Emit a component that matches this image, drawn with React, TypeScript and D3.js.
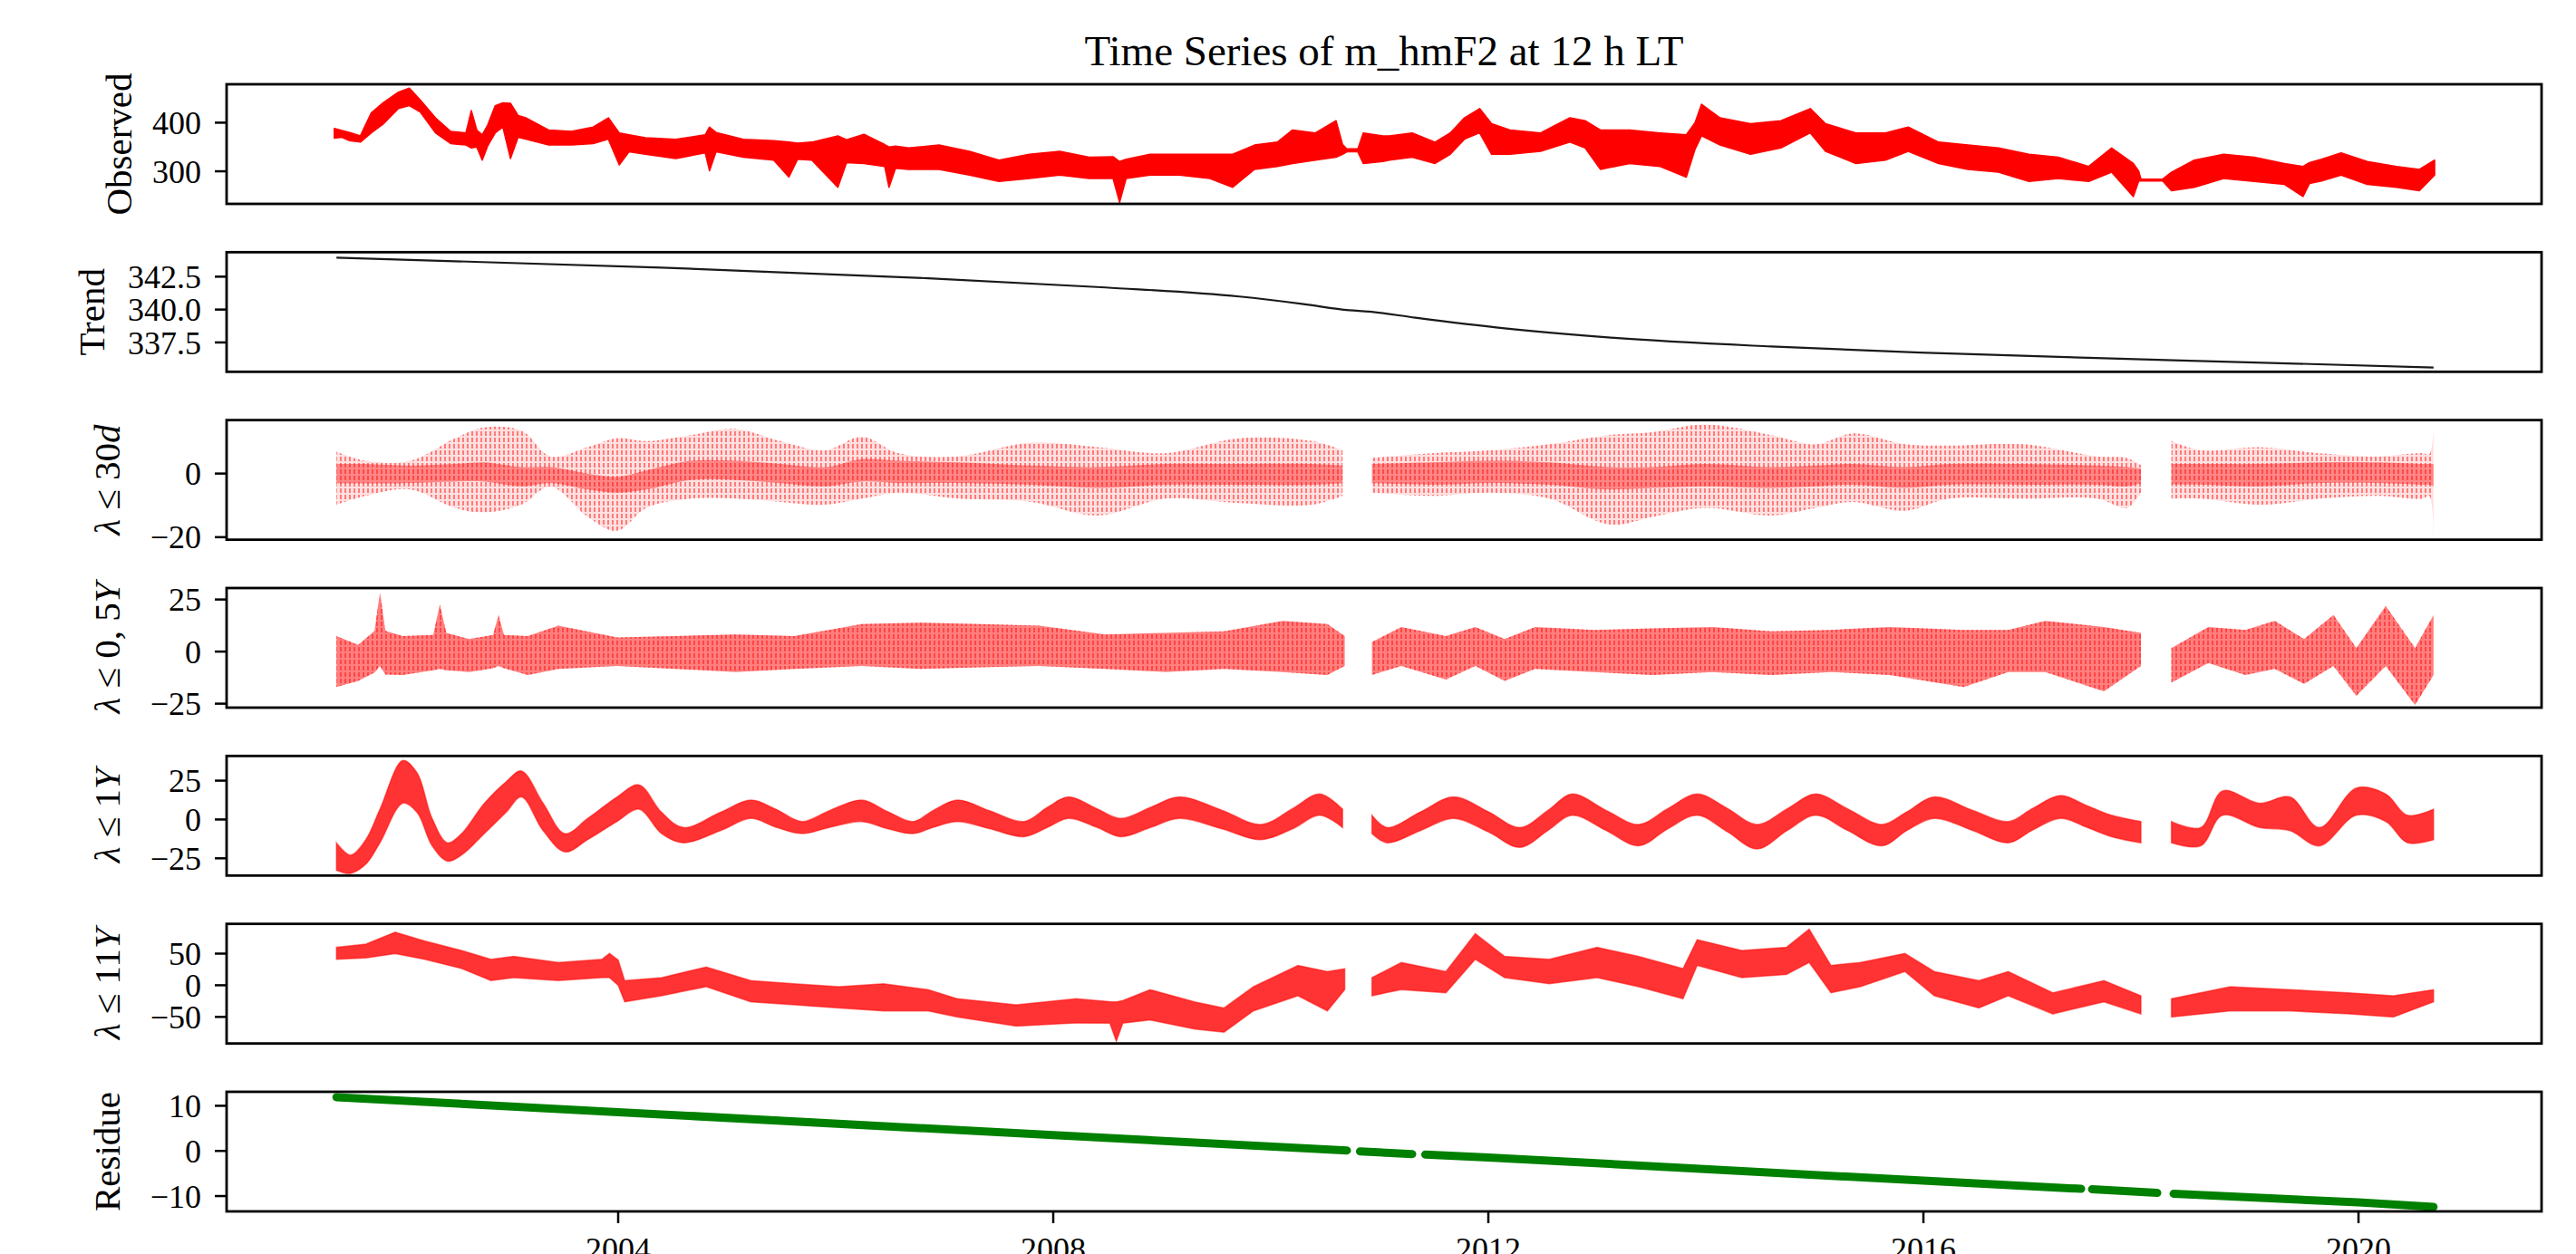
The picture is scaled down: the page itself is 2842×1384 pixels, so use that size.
import React, { useEffect } from 'react';
import * as d3 from 'd3';

const WIDTH = 2842;
const HEIGHT = 1384;
const FONT = "'Liberation Serif', 'DejaVu Serif', serif";

// ---- axes ----
const xDomain = [2000.4, 2021.683];
const xTicks = [2004, 2008, 2012, 2016, 2020];

const obsDomain = [233, 479];
const obsTicks = [300, 400];
const trendDomain = [335.27, 344.36];
const trendTicks = [337.5, 340.0, 342.5];
const d30Domain = [-20.8, 16.8];
const d30Ticks = [-20, 0];
const halfDomain = [-26.9, 30.5];
const halfTicks = [-25, 0, 25];
const oneDomain = [-36.1, 40.9];
const oneTicks = [-25, 0, 25];
const elevenDomain = [-92, 97];
const elevenTicks = [-50, 0, 50];
const resDomain = [-13.4, 13.1];
const resTicks = [-10, 0, 10];

// ---- Observed (band: upper / lower envelope of daily values) ----
const obsYear = [2001.39, 2001.46, 2001.53, 2001.63, 2001.73, 2001.84, 2001.98, 2002.08, 2002.18, 2002.32, 2002.46, 2002.6, 2002.65, 2002.7, 2002.75, 2002.8, 2002.87, 2002.94, 2003.01, 2003.08, 2003.15, 2003.36, 2003.57, 2003.77, 2003.91, 2004.01, 2004.1, 2004.25, 2004.53, 2004.8, 2004.84, 2004.9, 2005.15, 2005.43, 2005.57, 2005.65, 2005.78, 2006.02, 2006.1, 2006.26, 2006.45, 2006.49, 2006.55, 2006.67, 2006.95, 2007.23, 2007.5, 2007.78, 2008.06, 2008.33, 2008.55, 2008.61, 2008.67, 2008.89, 2009.16, 2009.44, 2009.65, 2009.85, 2010.06, 2010.2, 2010.41, 2010.6, 2010.66, 2010.7, 2010.8, 2010.85, 2011.03, 2011.09, 2011.3, 2011.51, 2011.65, 2011.78, 2011.92, 2012.03, 2012.2, 2012.48, 2012.75, 2012.89, 2013.03, 2013.3, 2013.58, 2013.82, 2013.9, 2013.96, 2014.13, 2014.41, 2014.69, 2014.96, 2015.1, 2015.38, 2015.65, 2015.86, 2016.14, 2016.41, 2016.69, 2016.97, 2017.24, 2017.52, 2017.73, 2017.93, 2017.98, 2018.0, 2018.2, 2018.28, 2018.49, 2018.76, 2019.04, 2019.32, 2019.49, 2019.55, 2019.66, 2019.84, 2020.08, 2020.35, 2020.56, 2020.7];
const obsHi = [388, 384, 380, 373, 420, 441, 463, 471, 447, 410, 382, 379, 425, 385, 375, 395, 435, 441, 440, 415, 410, 385, 382, 391, 410, 379, 375, 369, 366, 375, 391, 380, 366, 363, 360, 358, 360, 373, 365, 376, 355, 350, 352, 348, 354, 341, 323, 335, 341, 329, 330, 320, 325, 335, 335, 335, 335, 354, 360, 385, 379, 404, 355, 346, 346, 379, 373, 373, 379, 360, 379, 410, 429, 398, 385, 379, 410, 404, 385, 385, 379, 375, 400, 438, 410, 398, 404, 429, 398, 379, 379, 391, 360, 354, 348, 335, 329, 310, 348, 316, 300, 284, 284, 298, 323, 335, 329, 316, 310, 318, 325, 338, 320, 310, 304, 323];
const obsLo = [368, 370, 363, 360, 379, 397, 429, 435, 422, 379, 357, 354, 348, 350, 323, 352, 379, 391, 326, 370, 366, 354, 354, 357, 366, 313, 340, 335, 326, 338, 301, 340, 329, 323, 288, 325, 323, 267, 318, 316, 310, 267, 306, 304, 304, 292, 279, 285, 292, 285, 285, 236, 285, 292, 292, 285, 267, 304, 310, 316, 323, 329, 335, 340, 340, 316, 320, 323, 329, 316, 335, 366, 379, 335, 335, 341, 360, 348, 304, 316, 310, 288, 345, 373, 354, 335, 348, 379, 341, 316, 323, 341, 316, 304, 298, 279, 285, 279, 298, 248, 280, 280, 280, 260, 267, 285, 279, 273, 248, 275, 280, 292, 273, 267, 260, 292];

// ---- Trend ----
const trendYear = [2001.41, 2004.4, 2006.85, 2008.48, 2009.71, 2010.3, 2010.72, 2010.9, 2011.33, 2012.15, 2013.1, 2014.6, 2015.97, 2018.3, 2020.69];
const trendVal = [343.95, 343.19, 342.38, 341.68, 340.99, 340.42, 339.95, 339.85, 339.38, 338.57, 337.88, 337.19, 336.73, 336.15, 335.6];

// ---- lambda <= 30 d (outer envelope and dense core) ----
const d30Year = [2001.41, 2001.68, 2002.09, 2002.5, 2002.77, 2003.11, 2003.38, 2003.72, 2003.99, 2004.26, 2004.67, 2005.08, 2005.49, 2005.9, 2006.24, 2006.58, 2007.12, 2007.8, 2008.41, 2009.03, 2009.71, 2010.38, 2010.66, 2010.8, 2010.93, 2011.47, 2012.02, 2012.56, 2013.11, 2013.51, 2013.99, 2014.6, 2015.01, 2015.35, 2015.83, 2016.24, 2016.92, 2017.6, 2017.87, 2018.0, 2018.12, 2018.28, 2018.55, 2019.09, 2019.64, 2020.18, 2020.59, 2020.65, 2020.69];
const d30Hi = [6.9, 4.0, 4.0, 11.1, 14.5, 13.5, 5.4, 8.3, 11.1, 10.2, 12.1, 14.0, 10.2, 7.3, 11.6, 6.4, 5.4, 9.7, 8.3, 6.4, 11.1, 10.2, 7.3, null, 4.9, 6.4, 7.3, 9.2, 12.1, 13.0, 15.4, 12.1, 9.2, 12.6, 9.2, 8.8, 9.2, 5.4, 4.9, 2.6, null, 10.2, 7.3, 8.3, 6.4, 5.4, 6.4, 6.0, 14.0];
const d30Lo = [-9.8, -7.0, -5.0, -10.8, -12.2, -9.8, -4.1, -13.6, -18.0, -10.8, -7.9, -7.9, -8.9, -9.8, -7.9, -6.0, -7.9, -8.9, -13.2, -7.9, -9.3, -9.8, -7.0, null, -6.0, -7.0, -6.0, -7.9, -16.0, -13.6, -10.8, -13.2, -10.8, -8.9, -11.7, -7.9, -7.9, -7.9, -10.8, -6.0, null, -7.9, -7.9, -9.8, -7.9, -7.0, -7.9, -7.0, -19.8];
const d30CoreHi = [3.0, 3.0, 2.5, 3.0, 3.5, 2.0, 2.0, 0.0, -1.0, 1.0, 4.0, 4.0, 3.0, 2.0, 4.5, 4.0, 3.5, 2.5, 2.0, 3.0, 3.0, 3.0, 2.5, null, 3.0, 3.5, 4.0, 3.5, 2.0, 2.0, 3.0, 2.0, 2.5, 3.0, 2.0, 3.0, 3.0, 2.5, 2.0, 1.5, null, 3.0, 3.0, 3.0, 3.5, 3.5, 3.0, 3.0, 3.0];
const d30CoreLo = [-3.1, -3.1, -3.0, -2.5, -2.5, -4.0, -3.0, -5.0, -6.0, -5.0, -2.0, -2.0, -3.0, -4.0, -2.5, -3.0, -3.0, -3.5, -4.5, -3.5, -3.5, -3.5, -3.0, null, -3.0, -3.5, -3.0, -3.5, -5.0, -4.5, -4.0, -4.5, -4.0, -3.5, -4.5, -3.5, -3.5, -3.5, -4.0, -3.0, null, -3.5, -3.5, -4.0, -3.0, -3.0, -3.5, -3.5, -4.0];

// ---- lambda <= 0,5 Y ----
const halfYear = [2001.41, 2001.61, 2001.76, 2001.81, 2001.86, 2002.02, 2002.3, 2002.36, 2002.42, 2002.63, 2002.85, 2002.9, 2002.95, 2003.17, 2003.45, 2003.99, 2004.53, 2005.08, 2005.62, 2006.24, 2006.78, 2007.32, 2007.87, 2008.48, 2009.03, 2009.57, 2010.11, 2010.52, 2010.68, 2010.8, 2010.93, 2011.2, 2011.61, 2011.88, 2012.15, 2012.43, 2012.97, 2013.51, 2014.06, 2014.6, 2015.15, 2015.69, 2016.37, 2016.78, 2017.12, 2017.66, 2018.0, 2018.12, 2018.28, 2018.62, 2018.96, 2019.23, 2019.5, 2019.77, 2019.98, 2020.25, 2020.52, 2020.69];
const halfHi = [7.5, 3.2, 10, 28.4, 10, 7.5, 8, 22.6, 9, 6.0, 8, 17.6, 8, 7.5, 12.5, 6.8, 7.5, 8.2, 7.5, 13.2, 13.9, 13.2, 12.5, 8.2, 9.0, 9.7, 14.7, 13.2, 7.5, null, 4.6, 11.8, 7.5, 11.8, 6.0, 11.8, 10.4, 11.1, 11.8, 9.7, 10.4, 11.8, 10.4, 10.4, 14.7, 11.8, 9.0, null, 1.7, 11.8, 10.4, 14.7, 6.0, 17.6, 1.7, 21.9, 1.7, 17.6];
const halfLo = [-17, -14.1, -10, -6.9, -11, -11.2, -9, -8.3, -9, -9.8, -8, -6.9, -8, -11.2, -8.3, -6.9, -8.3, -9.8, -8.3, -6.9, -8.3, -7.6, -6.9, -8.3, -9.8, -8.3, -9.8, -11.2, -6.9, null, -11.2, -6.9, -13.4, -6.9, -14.1, -8.3, -9.8, -11.2, -9.8, -11.2, -9.8, -11.2, -17, -9.8, -9.8, -19.1, -6.9, null, -14.8, -5.5, -11.2, -8.3, -15.5, -6.9, -21.3, -6.9, -25.6, -11.2];

// ---- lambda <= 1 Y ----
const oneYear = [2001.41, 2001.54, 2001.68, 2001.81, 2002.02, 2002.15, 2002.29, 2002.43, 2002.56, 2002.77, 2002.97, 2003.11, 2003.31, 2003.51, 2003.72, 2003.99, 2004.19, 2004.4, 2004.6, 2004.94, 2005.22, 2005.45, 2005.69, 2005.95, 2006.24, 2006.48, 2006.71, 2006.9, 2007.12, 2007.42, 2007.73, 2007.95, 2008.14, 2008.4, 2008.62, 2008.9, 2009.16, 2009.55, 2009.91, 2010.2, 2010.45, 2010.66, 2010.8, 2010.93, 2011.07, 2011.38, 2011.68, 2012.0, 2012.29, 2012.55, 2012.77, 2013.08, 2013.38, 2013.65, 2013.92, 2014.2, 2014.47, 2014.75, 2015.01, 2015.3, 2015.62, 2015.85, 2016.1, 2016.45, 2016.78, 2017.0, 2017.26, 2017.5, 2017.73, 2018.0, 2018.12, 2018.28, 2018.55, 2018.75, 2019.09, 2019.37, 2019.64, 2019.98, 2020.25, 2020.45, 2020.69];
const oneHi = [-15, -22.9, -13, 6.6, 38, 30.2, 0.7, -15, -9.1, 10.5, 24.3, 31.2, 10.5, -9.1, 0.7, 14.5, 22.3, 4.6, -5.2, 4.6, 12.5, 6.6, -1.3, 6.0, 12.5, 5.0, -1.3, 6.0, 12.5, 5.5, -1.3, 8.0, 14.5, 7.0, 0.7, 8.0, 14.5, 6.0, -3.2, 7.0, 16.4, 6.6, null, 2.7, -5.2, 5.0, 14.5, 5.0, -5.2, 6.0, 16.4, 6.0, -3.2, 7.0, 16.4, 7.0, -3.2, 7.0, 16.4, 7.0, -3.2, 5.0, 14.5, 6.0, -1.3, 7.0, 15.4, 9.0, 2.7, -1.3, null, -1.3, -5.2, 18.4, 10.5, 14.5, -5.2, 20.3, 16.4, 2.7, 6.6];
const oneLo = [-32.7, -34.7, -28.8, -15, 10.5, 4.6, -17, -26.8, -22.9, -9.1, 4.6, 14.5, -7.2, -20.9, -13, -1.3, 6.6, -9.1, -15, -7.2, 0.7, -5.0, -9.1, -5.0, -1.3, -6.0, -9.1, -5.0, -1.3, -6.0, -11.1, -5.0, 0.7, -5.0, -11.1, -5.0, 0.7, -6.0, -13, -6.0, 2.7, -5.2, null, -9.1, -15, -7.0, 0.7, -8.0, -18, -7.0, 2.7, -7.0, -17, -6.0, 2.7, -8.0, -19, -7.0, 2.7, -7.0, -17, -7.0, 0.7, -7.0, -15, -7.0, 0.7, -5.0, -11.1, -15, null, -15, -17, 2.7, -5.2, -7.2, -17, 2.7, -1.3, -15, -13];

// ---- lambda <= 11 Y ----
const elevenYear = [2001.41, 2001.68, 2001.95, 2002.22, 2002.56, 2002.83, 2003.04, 2003.45, 2003.85, 2003.92, 2004.0, 2004.06, 2004.4, 2004.81, 2005.22, 2005.62, 2006.03, 2006.44, 2006.85, 2007.12, 2007.66, 2008.21, 2008.52, 2008.58, 2008.64, 2008.89, 2009.3, 2009.57, 2009.84, 2010.25, 2010.52, 2010.68, 2010.8, 2010.93, 2011.2, 2011.61, 2011.88, 2012.15, 2012.56, 2013.0, 2013.38, 2013.79, 2013.92, 2014.33, 2014.74, 2014.95, 2015.15, 2015.42, 2015.83, 2016.1, 2016.51, 2016.78, 2017.19, 2017.66, 2018.0, 2018.12, 2018.28, 2018.82, 2019.37, 2019.91, 2020.32, 2020.69];
const elevenHi = [60, 65, 84, 70, 55, 41, 45.6, 36, 41, 50.4, 40, 7.3, 12, 28.9, 7.3, 2.5, -2.3, 2.5, -7, -21.4, -31, -21.4, -26, -26.2, -24, -7, -26.2, -35.8, -2.3, 31.3, 21.7, 26, null, 12, 36, 21.7, 81.6, 45.6, 40.9, 60, 45.6, 26.4, 72, 55, 60, 88.8, 31.3, 36, 50.4, 21.7, 7.3, 21.7, -11.8, 7.3, -16.6, null, -21.4, -2.3, -7, -11.8, -16.6, -7];
const elevenLo = [41, 43, 50, 41, 26.5, 7.3, 12.1, 7.3, 12.1, 12.1, 0, -26.2, -16.6, -2.3, -26.2, -31, -35.8, -40.6, -40.6, -50.2, -64.5, -59.7, -60, -88.5, -60, -55, -69.3, -74.1, -40.6, -16.6, -40.6, -7, null, -16.6, -7, -11.8, 40.9, 12.1, 2.5, 12.1, -2.3, -21.4, 31.3, 12.1, 17, 36, -11.8, -2.3, 21.7, -16.6, -35.8, -16.6, -45.4, -26.2, -45.4, null, -50.2, -40.6, -40.6, -45.4, -50.2, -26.2];

// ---- Residue ----
const resYear = [2001.41, 2004.0, 2008.0, 2010.7, 2010.76, 2010.82, 2011.3, 2011.36, 2011.42, 2012.0, 2016.0, 2017.45, 2017.5, 2017.55, 2018.15, 2018.22, 2018.3, 2020.0, 2020.69];
const resVal = [11.9, 8.6, 3.5, 0.1, null, -0.1, -0.7, null, -0.8, -1.45, -6.6, -8.4, null, -8.5, -9.3, null, -9.5, -11.4, -12.4];

// ---- layout ----
const AX_LEFT = 250;
const AX_RIGHT = 2804;
const TOP0 = 93;
const PITCH = 185.33;
const PANEL_H = 132;
const RED = '#ff0000';

type Row = { t: number; a: number | null; b: number | null };
const rows = (ys: number[], a: (number | null)[], b: (number | null)[]): Row[] =>
  ys.map((t, i) => ({ t, a: a[i], b: b[i] }));

export default function App() {
  useEffect(() => {
    document.body.style.margin = '0';
  }, []);

  const x = d3.scaleLinear().domain(xDomain).range([AX_LEFT, AX_RIGHT]);

  const panels = [
    { domain: obsDomain, ticks: obsTicks, fmt: d3.format('d'), labelX: 145 },
    { domain: trendDomain, ticks: trendTicks, fmt: d3.format('.1f'), labelX: 115 },
    { domain: d30Domain, ticks: d30Ticks, fmt: d3.format('d'), labelX: 132 },
    { domain: halfDomain, ticks: halfTicks, fmt: d3.format('d'), labelX: 132 },
    { domain: oneDomain, ticks: oneTicks, fmt: d3.format('d'), labelX: 132 },
    { domain: elevenDomain, ticks: elevenTicks, fmt: d3.format('d'), labelX: 132 },
    { domain: resDomain, ticks: resTicks, fmt: d3.format('d'), labelX: 132 },
  ].map((p, i) => {
    const top = TOP0 + i * PITCH;
    const y = d3.scaleLinear().domain(p.domain).range([top + PANEL_H, top]);
    return { ...p, top, y };
  });

  const band = (y: d3.ScaleLinear<number, number>, data: Row[], curve: d3.CurveFactory = d3.curveLinear) =>
    d3
      .area<Row>()
      .defined((d) => d.a != null && d.b != null)
      .curve(curve)
      .x((d) => x(d.t))
      .y0((d) => y(d.b as number))
      .y1((d) => y(d.a as number))(data) || '';

  const line = (y: d3.ScaleLinear<number, number>, ys: number[], vs: (number | null)[], curve: d3.CurveFactory = d3.curveLinear) =>
    d3
      .line<Row>()
      .defined((d) => d.a != null)
      .curve(curve)
      .x((d) => x(d.t))
      .y((d) => y(d.a as number))(rows(ys, vs, vs)) || '';

  const labels: React.ReactNode[] = [
    <>Observed</>,
    <>Trend</>,
    <>
      <tspan fontStyle="italic">λ</tspan> ≤ 30<tspan fontStyle="italic">d</tspan>
    </>,
    <>
      <tspan fontStyle="italic">λ</tspan> ≤ 0, 5<tspan fontStyle="italic">Y</tspan>
    </>,
    <>
      <tspan fontStyle="italic">λ</tspan> ≤ 1<tspan fontStyle="italic">Y</tspan>
    </>,
    <>
      <tspan fontStyle="italic">λ</tspan> ≤ 11<tspan fontStyle="italic">Y</tspan>
    </>,
    <>Residue</>,
  ];

  const cr = d3.curveCatmullRom.alpha(0.5);

  const marks = (i: number, y: d3.ScaleLinear<number, number>) => {
    switch (i) {
      case 0:
        return <path d={band(y, rows(obsYear, obsHi, obsLo))} fill={RED} stroke={RED} strokeWidth={1.5} strokeLinejoin="round" />;
      case 1:
        return <path d={line(y, trendYear, trendVal, d3.curveMonotoneX)} fill="none" stroke="#1a1a1a" strokeWidth={2.2} />;
      case 2:
        return (
          <g>
            <path d={band(y, rows(d30Year, d30Hi, d30Lo), cr)} fill="url(#stripes)" />
            <path d={band(y, rows(d30Year, d30Hi, d30Lo), cr)} fill={RED} fillOpacity={0.12} />
            <path d={band(y, rows(d30Year, d30CoreHi, d30CoreLo), cr)} fill={RED} fillOpacity={0.4} />
          </g>
        );
      case 3:
        return (
          <g>
            <path d={band(y, rows(halfYear, halfHi, halfLo))} fill="url(#stripes)" />
            <path d={band(y, rows(halfYear, halfHi, halfLo))} fill={RED} fillOpacity={0.5} />
          </g>
        );
      case 4:
        return <path d={band(y, rows(oneYear, oneHi, oneLo), cr)} fill={RED} fillOpacity={0.8} stroke={RED} strokeOpacity={0.5} strokeWidth={1.5} />;
      case 5:
        return <path d={band(y, rows(elevenYear, elevenHi, elevenLo))} fill={RED} fillOpacity={0.8} stroke={RED} strokeOpacity={0.5} strokeWidth={1.5} />;
      case 6:
        return <path d={line(y, resYear, resVal)} fill="none" stroke="#008000" strokeWidth={9} strokeLinecap="round" />;
      default:
        return null;
    }
  };

  return (
    <svg
      width={WIDTH}
      height={HEIGHT}
      viewBox={`0 0 ${WIDTH} ${HEIGHT}`}
      style={{ position: 'absolute', left: 0, top: 0, background: '#fff' }}
      fontFamily={FONT}
    >
      <rect x={0} y={0} width={WIDTH} height={HEIGHT} fill="#fff" />
      <defs>
        <pattern id="stripes" width={5} height={7} patternUnits="userSpaceOnUse">
          <rect x={0} y={0} width={2} height={5} fill={RED} fillOpacity={0.45} />
        </pattern>
        {panels.map((p, i) => (
          <clipPath id={`clip${i}`} key={i}>
            <rect x={AX_LEFT} y={p.top} width={AX_RIGHT - AX_LEFT} height={PANEL_H} />
          </clipPath>
        ))}
      </defs>
      <text x={(AX_LEFT + AX_RIGHT) / 2} y={72} textAnchor="middle" fontSize={47} fill="#000">
        Time Series of m_hmF2 at 12 h LT
      </text>
      {panels.map((p, i) => (
        <g key={i}>
          <g clipPath={`url(#clip${i})`}>{marks(i, p.y)}</g>
          <rect x={AX_LEFT} y={p.top} width={AX_RIGHT - AX_LEFT} height={PANEL_H} fill="none" stroke="#000" strokeWidth={2.8} />
          {p.ticks.map((t) => (
            <g key={t}>
              <line x1={AX_LEFT} x2={AX_LEFT - 13} y1={p.y(t)} y2={p.y(t)} stroke="#000" strokeWidth={2.5} />
              <text x={AX_LEFT - 28} y={p.y(t)} dy="0.35em" textAnchor="end" fontSize={36} fill="#000">
                {p.fmt(t)}
              </text>
            </g>
          ))}
          <text
            transform={`translate(${p.labelX},${p.top + PANEL_H / 2}) rotate(-90)`}
            textAnchor="middle"
            fontSize={41}
            fill="#000"
          >
            {labels[i]}
          </text>
        </g>
      ))}
      {xTicks.map((t) => {
        const bottom = panels[6].top + PANEL_H;
        return (
          <g key={t}>
            <line x1={x(t)} x2={x(t)} y1={bottom} y2={bottom + 13} stroke="#000" strokeWidth={2.5} />
            <text x={x(t)} y={bottom + 54} textAnchor="middle" fontSize={36} fill="#000">
              {t}
            </text>
          </g>
        );
      })}
    </svg>
  );
}
